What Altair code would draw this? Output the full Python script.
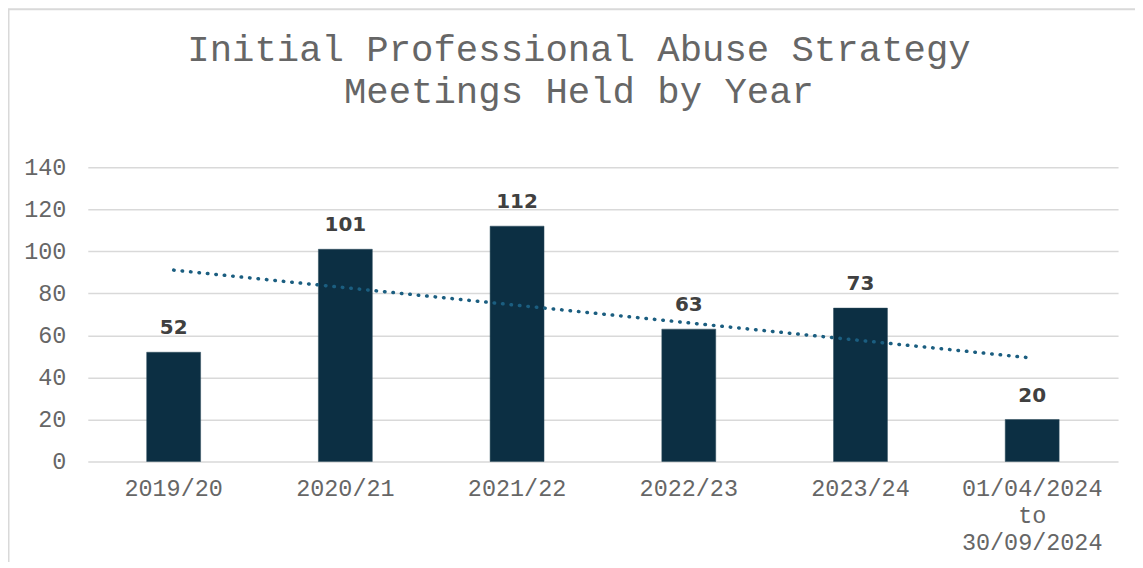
import json
import altair as alt
import pandas as pd

categories = ["2019/20", "2020/21", "2021/22", "2022/23", "2023/24", "01/04/2024 to 30/09/2024"]
meetings = [52, 101, 112, 63, 73, 20]
y_ticks = [0, 20, 40, 60, 80, 100, 120, 140]
title_lines = ["Initial Professional Abuse Strategy", "Meetings Held by Year"]

df = pd.DataFrame({"period": categories, "meetings": meetings, "idx": list(range(1, len(categories) + 1))})

W, H = 1033, 295
MONO = "Liberation Mono"
GREY = "#666666"

x_enc = alt.X(
    "period:N",
    sort=categories,
    scale=alt.Scale(paddingInner=0.686, paddingOuter=0.343),
    axis=alt.Axis(
        title=None, labelAngle=0, labelExpr="split(datum.label, ' ')",
        labelFont=MONO, labelFontSize=23.5, labelColor=GREY, ticks=False,
        domain=False, labelPadding=15, labelLineHeight=27, grid=False,
    ),
)
y_enc = alt.Y(
    "meetings:Q",
    scale=alt.Scale(domain=[0, 140], nice=False),
    axis=alt.Axis(
        title=None, values=y_ticks, labelFont=MONO, labelFontSize=23.5,
        labelColor=GREY, ticks=False, domain=False, labelPadding=22,
        grid=True, gridColor="#d9d9d9", gridWidth=1.5,
    ),
)

base = alt.Chart(df)

frame = alt.Chart(pd.DataFrame({"f": [0]})).mark_rect(
    fill="white", fillOpacity=0, stroke="#d9d9d9", strokeWidth=2
).encode(
    x=alt.value(-79.5), x2=alt.value(1300), y=alt.value(-158.5), y2=alt.value(800)
)

bars = base.mark_bar(color="#0C2F43", stroke="#2a4a5c", strokeWidth=0.5).encode(x=x_enc, y=y_enc)

labels = base.mark_text(
    dy=-14, baseline="bottom", font="DejaVu Sans", fontWeight="bold",
    fontSize=20, color="#404040",
).encode(x=x_enc, y=y_enc, text="meetings:Q")

cat_js = json.dumps(categories)
trend = base.transform_regression("idx", "meetings", method="linear").transform_calculate(
    period=f"{cat_js}[round(datum.idx) - 1]"
).mark_line(
    color="#1B5E80", strokeWidth=3.5, strokeDash=[0.5, 8], strokeCap="round"
).encode(x=x_enc, y=y_enc)

chart = alt.layer(frame, bars, trend, labels).properties(
    width=W, height=H,
    autosize=alt.AutoSizeParams(type="none"),
    padding={"left": 80, "top": 159, "right": 17, "bottom": 100},
    title=alt.TitleParams(
        text=title_lines, font=MONO, fontSize=37.4, fontWeight="normal",
        color=GREY, anchor="middle", frame="group", dx=-24, offset=-102.5,
        lineHeight=42,
    ),
).configure_view(stroke=None)

chart.save("out.html", embed_options={"renderer": "svg", "actions": False})
